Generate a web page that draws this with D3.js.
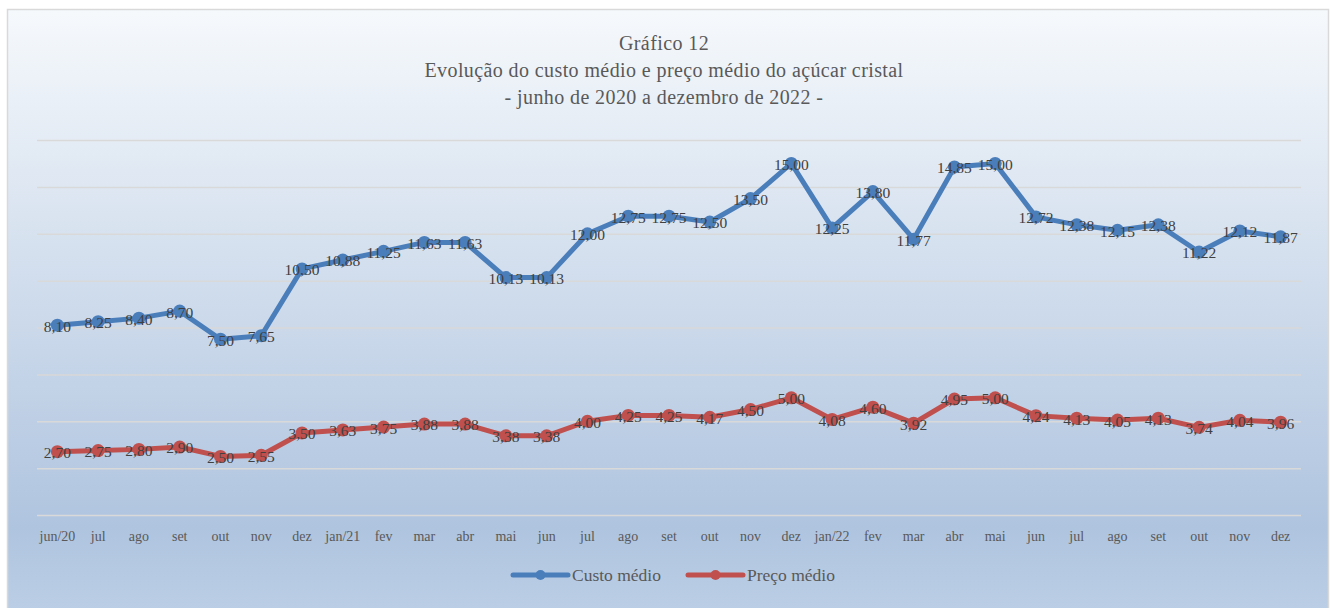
<!DOCTYPE html>
<html>
<head>
<meta charset="utf-8">
<script src="https://cdn.jsdelivr.net/npm/d3@7"></script>
<style>
  body { margin: 0; background: #fff; }
  svg { display: block; }
</style>
</head>
<body>
<script>
const categories = ["jun/20", "jul", "ago", "set", "out", "nov", "dez", "jan/21", "fev", "mar", "abr", "mai", "jun", "jul", "ago", "set", "out", "nov", "dez", "jan/22", "fev", "mar", "abr", "mai", "jun", "jul", "ago", "set", "out", "nov", "dez"];
const custoMedio = [8.10, 8.25, 8.40, 8.70, 7.50, 7.65, 10.50, 10.88, 11.25, 11.63, 11.63, 10.13, 10.13, 12.00, 12.75, 12.75, 12.50, 13.50, 15.00, 12.25, 13.80, 11.77, 14.85, 15.00, 12.72, 12.38, 12.15, 12.38, 11.22, 12.12, 11.87];
const precoMedio = [2.70, 2.75, 2.80, 2.90, 2.50, 2.55, 3.50, 3.63, 3.75, 3.88, 3.88, 3.38, 3.38, 4.00, 4.25, 4.25, 4.17, 4.50, 5.00, 4.08, 4.60, 3.92, 4.95, 5.00, 4.24, 4.13, 4.05, 4.13, 3.74, 4.04, 3.96];
const yTicks = [0, 2, 4, 6, 8, 10, 12, 14, 16];
const titleLines = ["Gráfico 12", "Evolução do custo médio e preço médio do açúcar cristal", "- junho de 2020 a dezembro de 2022 -"];
const series = [
  { name: "Custo médio", values: custoMedio, color: "#4a7ebb" },
  { name: "Preço médio", values: precoMedio, color: "#c0504d" }
];

const width = 1333, height = 608;
const fontFamily = "'Liberation Serif', 'DejaVu Serif', serif";
const plot = { left: 37, right: 1301, top: 140, bottom: 515 };

const svg = d3.select("body").append("svg")
  .attr("width", width)
  .attr("height", height);

const defs = svg.append("defs");
const grad = defs.append("linearGradient")
  .attr("id", "bg")
  .attr("x1", 0).attr("y1", 0).attr("x2", 0).attr("y2", 1);
grad.append("stop").attr("offset", "0%").attr("stop-color", "#f6f9fc");
grad.append("stop").attr("offset", "85%").attr("stop-color", "#afc4df");
grad.append("stop").attr("offset", "100%").attr("stop-color", "#bccfe6");

svg.append("rect")
  .attr("x", 7.5).attr("y", 9.5)
  .attr("width", 1321).attr("height", 610)
  .attr("fill", "url(#bg)")
  .attr("stroke", "#d9d9d9")
  .attr("stroke-width", 1.5);

// title
svg.append("g").selectAll("text")
  .data(titleLines)
  .enter().append("text")
  .attr("x", 664)
  .attr("y", (d, i) => 50 + i * 27)
  .attr("text-anchor", "middle")
  .attr("font-family", fontFamily)
  .attr("font-size", 20)
  .attr("letter-spacing", 0.4)
  .attr("fill", "#595959")
  .text(d => d);

const x = d3.scaleBand()
  .domain(d3.range(categories.length))
  .range([plot.left, plot.right]);

const y = d3.scaleLinear()
  .domain([0, 16])
  .range([plot.bottom, plot.top]);

// gridlines
svg.append("g")
  .attr("transform", `translate(${plot.left},0)`)
  .call(d3.axisLeft(y).tickValues(yTicks).tickSize(-(plot.right - plot.left)).tickFormat(""))
  .call(g => g.select(".domain").remove())
  .call(g => g.selectAll(".tick line").attr("stroke", "#d9d9d9").attr("stroke-width", 1.5));

// x axis
svg.append("g")
  .attr("transform", `translate(0,${plot.bottom})`)
  .call(d3.axisBottom(x).tickSize(0).tickPadding(16).tickFormat(i => categories[i]))
  .call(g => g.select(".domain").remove())
  .call(g => g.selectAll("text")
    .attr("font-family", fontFamily)
    .attr("font-size", 14)
    .attr("fill", "#595959"));

const cx = i => x(i) + x.bandwidth() / 2;
const line = d3.line()
  .x((d, i) => cx(i))
  .y(d => y(d));

const fmt = v => d3.format(".2f")(v).replace(".", ",");

series.forEach(s => {
  const g = svg.append("g");
  g.append("path")
    .datum(s.values)
    .attr("d", line)
    .attr("fill", "none")
    .attr("stroke", s.color)
    .attr("stroke-width", 5)
    .attr("stroke-linejoin", "round")
    .attr("stroke-linecap", "round");
  g.selectAll("circle")
    .data(s.values)
    .enter().append("circle")
    .attr("cx", (d, i) => cx(i))
    .attr("cy", d => y(d))
    .attr("r", 6.5)
    .attr("fill", s.color);
  g.selectAll("text")
    .data(s.values)
    .enter().append("text")
    .attr("x", (d, i) => cx(i))
    .attr("y", d => y(d) + 1)
    .attr("dy", "0.35em")
    .attr("text-anchor", "middle")
    .attr("font-family", fontFamily)
    .attr("font-size", 15.5)
    .attr("fill", "#404040")
    .text(d => fmt(d));
});

// legend
const legend = svg.append("g").attr("transform", "translate(0,575)");
const legendX = [513, 688];
series.forEach((s, i) => {
  const lg = legend.append("g").attr("transform", `translate(${legendX[i]},0)`);
  lg.append("line")
    .attr("x1", 0).attr("x2", 55)
    .attr("stroke", s.color)
    .attr("stroke-width", 5)
    .attr("stroke-linecap", "round");
  lg.append("circle").attr("cx", 27.5).attr("r", 5).attr("fill", s.color);
  lg.append("text")
    .attr("x", 59)
    .attr("dy", "0.35em")
    .attr("font-family", fontFamily)
    .attr("font-size", 17.5)
    .attr("fill", "#595959")
    .text(s.name);
});
</script>
</body>
</html>
